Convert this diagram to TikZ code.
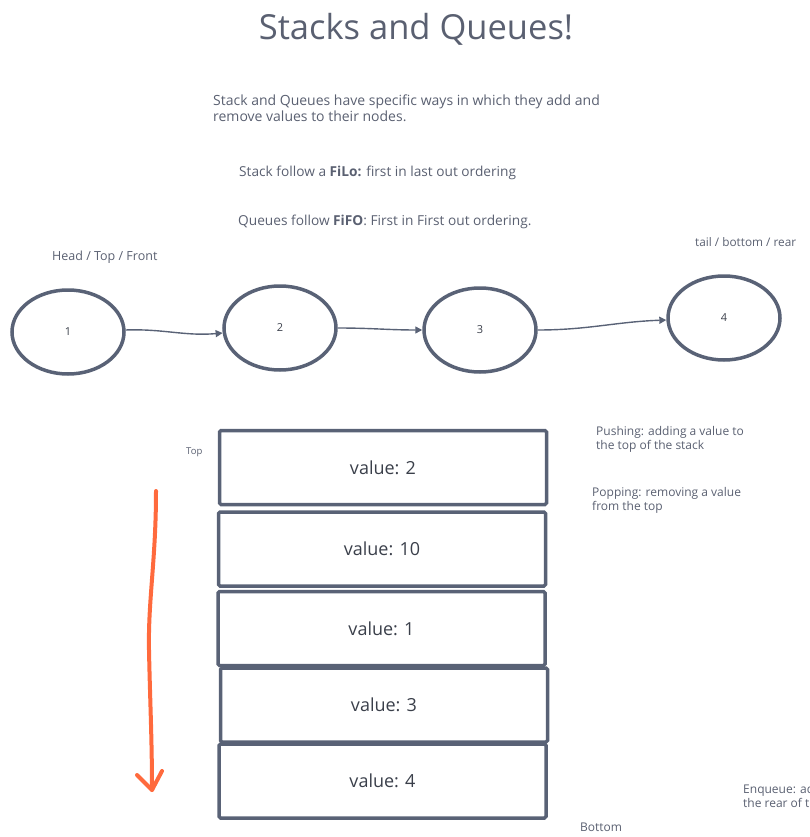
\documentclass[tikz,border=0pt]{standalone}
\usepackage{fontspec}
\setmainfont{Open Sans}
\usetikzlibrary{arrows.meta,positioning,shapes.geometric}
\definecolor{slate}{HTML}{596276}
\definecolor{inkgray}{HTML}{5A6071}
\definecolor{darkink}{HTML}{3A3F4A}
\definecolor{penorange}{HTML}{FF6A3D}
\tikzset{
  qnode/.style={ellipse,draw=slate,line width=3.5pt,minimum width=112pt,minimum height=84pt,font=\fontsize{11}{13}\selectfont,text=darkink},
  stackbox/.style={rectangle,draw=slate,line width=3.5pt,rounded corners=1.5pt,minimum width=327pt,minimum height=74pt,font=\fontsize{18}{21}\selectfont,text=darkink},
  note/.style={anchor=base west,align=left,text=inkgray,inner sep=0pt},
  link/.style={draw=slate,line width=1.4pt,-{Triangle[length=7pt,width=7pt]}}
}
\begin{document}
\begin{tikzpicture}[x=1pt,y=-1pt]
\useasboundingbox (0,0) rectangle (810,837);
\clip (0,0) rectangle (810,837);
% headings and text
\node[anchor=base,text=inkgray,inner sep=0pt,font=\fontsize{34.5}{38}\selectfont] (title) at (416,40) {Stacks and Queues!};
\node[note,font=\fontsize{14}{16}\selectfont] (intro) at (213,122) {Stack and Queues have specific ways in which they add and\\remove values to their nodes.};
\node[note,font=\fontsize{13.7}{16}\selectfont] (filo) at (239,177) {Stack follow a \textbf{FiLo:} first in last out ordering};
\node[note,font=\fontsize{13.7}{16}\selectfont] (fifo) at (238,225) {Queues follow \textbf{FiFO}: First in First out ordering.};
\node[note,font=\fontsize{12.5}{14}\selectfont] (head) at (52,260) {Head / Top / Front};
\node[note,font=\fontsize{11.8}{13}\selectfont] (tail) at (695,246) {tail / bottom / rear};
% queue
\node[qnode] (n1) at (68,332) {1};
\node[qnode] (n2) at (280,328) {2};
\node[qnode] (n3) at (480,330) {3};
\node[qnode] (n4) at (724,318) {4};
\draw[link] (n1) to[out=2,in=185] (n2);
\draw[link] (n2) to[out=0,in=180] (n3);
\draw[link] (n3) to[out=0,in=182] (n4);
% stack
\foreach \name/\cx/\cy/\val in {s1/383/467.5/2,s2/382/549/10,s3/381.5/628.5/1,s4/384/705/3,s5/382.5/781/4}{
  \node[stackbox] (\name) at (\cx,\cy) {value: \val};}
\node[note,font=\fontsize{9.5}{12}\selectfont] (top) at (186,454) {Top};
\node[note,font=\fontsize{12}{14}\selectfont] (bottom) at (580,831) {Bottom};
\node[note,font=\fontsize{12}{14}\selectfont] (push) at (596,449) {Pushing: adding a value to\\the top of the stack};
\node[note,font=\fontsize{12}{14}\selectfont] (pop) at (592,510) {Popping: removing a value\\from the top};
\node[note,font=\fontsize{12}{14}\selectfont] (enq) at (743,807) {Enqueue: adding a value to\\the rear of the queue};
% hand drawn arrow
\coordinate (penstart) at (156,491);
\coordinate (penend) at (152,790);
\draw[penorange,line width=4pt,line cap=round,line join=round] (penstart) .. controls (156,560) and (148,600) .. (149,650) .. controls (150,700) and (152,740) .. (penend);
\draw[penorange,line width=4pt,line cap=round,line join=round] (137,775) -- (penend) -- (162,771);
\end{tikzpicture}
\end{document}
